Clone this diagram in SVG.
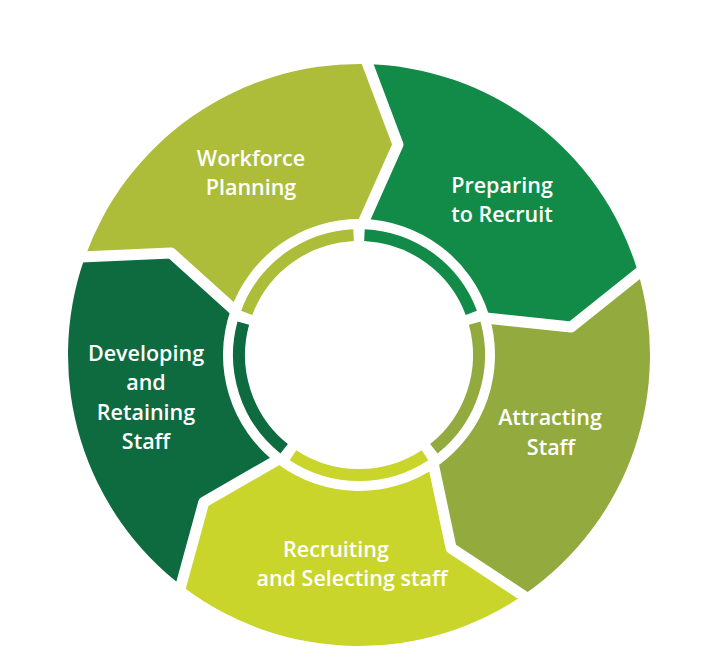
<svg xmlns="http://www.w3.org/2000/svg" width="712" height="668" viewBox="0 0 712 668">
<style>
.lbl{font-family:"Open Sans","Liberation Sans",sans-serif;font-weight:600;font-size:21.5px;fill:#ffffff;text-anchor:middle}
.sep{fill:none;stroke:#ffffff;stroke-width:11;stroke-linejoin:round;stroke-linecap:butt}
.thin{fill:none;stroke-width:12;stroke-linecap:butt}
</style>
<rect width="712" height="668" fill="#ffffff"/>
<g id="workforce-planning">
<path fill="#adbd3a" d="M83.85,260.26 A291,291 0 0 1 364.08,64.04 L398.0,144.6 L361.37,219.02 A136,136 0 0 0 230.41,310.72 L170.93,252.89 Z"/>
<path class="thin" stroke="#adbd3a" d="M246.67,312.78 A120,120 0 0 1 353.56,235.12"/>
<text class="lbl" x="251" y="166">Workforce</text>
<text class="lbl" x="251" y="195">Planning</text>
</g>
<g id="preparing-to-recruit">
<path fill="#118b47" d="M364.08,64.04 A291,291 0 0 1 637.28,269.92 L571.17,327.07 L489.06,315.24 A136,136 0 0 0 361.37,219.02 L398.0,144.6 Z"/>
<path class="thin" stroke="#118b47" d="M364.44,235.12 A120,120 0 0 1 471.33,312.78"/>
<text class="lbl" x="502" y="193">Preparing</text>
<text class="lbl" x="502" y="222">to Recruit</text>
</g>
<g id="attracting-staff">
<path fill="#92aa3e" d="M637.28,269.92 A291,291 0 0 1 525.91,593.37 L451.13,548.15 L437.01,466.40 A136,136 0 0 0 489.06,315.24 L571.17,327.07 Z"/>
<path class="thin" stroke="#92aa3e" d="M474.69,323.13 A120,120 0 0 1 433.87,448.78"/>
<text class="lbl" x="550" y="425">Attracting</text>
<text class="lbl" x="551" y="455">Staff</text>
</g>
<g id="recruiting-selecting">
<path fill="#c9d52a" d="M525.91,593.37 A291,291 0 0 1 183.87,587.40 L203.77,502.31 L277.15,463.62 A136,136 0 0 0 437.01,466.40 L451.13,548.15 Z"/>
<path class="thin" stroke="#c9d52a" d="M425.06,455.18 A120,120 0 0 1 292.94,455.18"/>
<text class="lbl" x="336" y="557">Recruiting</text>
<text class="lbl" x="352" y="586">and Selecting staff</text>
</g>
<g id="developing-retaining">
<path fill="#0e6a3f" d="M183.87,587.40 A291,291 0 0 1 83.85,260.26 L170.93,252.89 L230.41,310.72 A136,136 0 0 0 277.15,463.62 L203.77,502.31 Z"/>
<path class="thin" stroke="#0e6a3f" d="M284.13,448.78 A120,120 0 0 1 243.31,323.13"/>
<text class="lbl" x="146" y="361">Developing</text>
<text class="lbl" x="146" y="390">and</text>
<text class="lbl" x="146" y="420">Retaining</text>
<text class="lbl" x="146" y="449">Staff</text>
</g>
<g id="connectors">
<polyline class="sep" points="364.24,55.05 398.0,144.6 361.23,227.02"/>
<polyline class="sep" points="645.89,267.29 571.17,327.07 481.41,317.58"/>
<polyline class="sep" points="531.07,600.75 451.13,548.15 432.42,459.85"/>
<polyline class="sep" points="178.45,594.59 203.77,502.31 281.97,457.23"/>
<polyline class="sep" points="75.34,257.33 170.93,252.89 237.97,313.33"/>
</g>
</svg>
